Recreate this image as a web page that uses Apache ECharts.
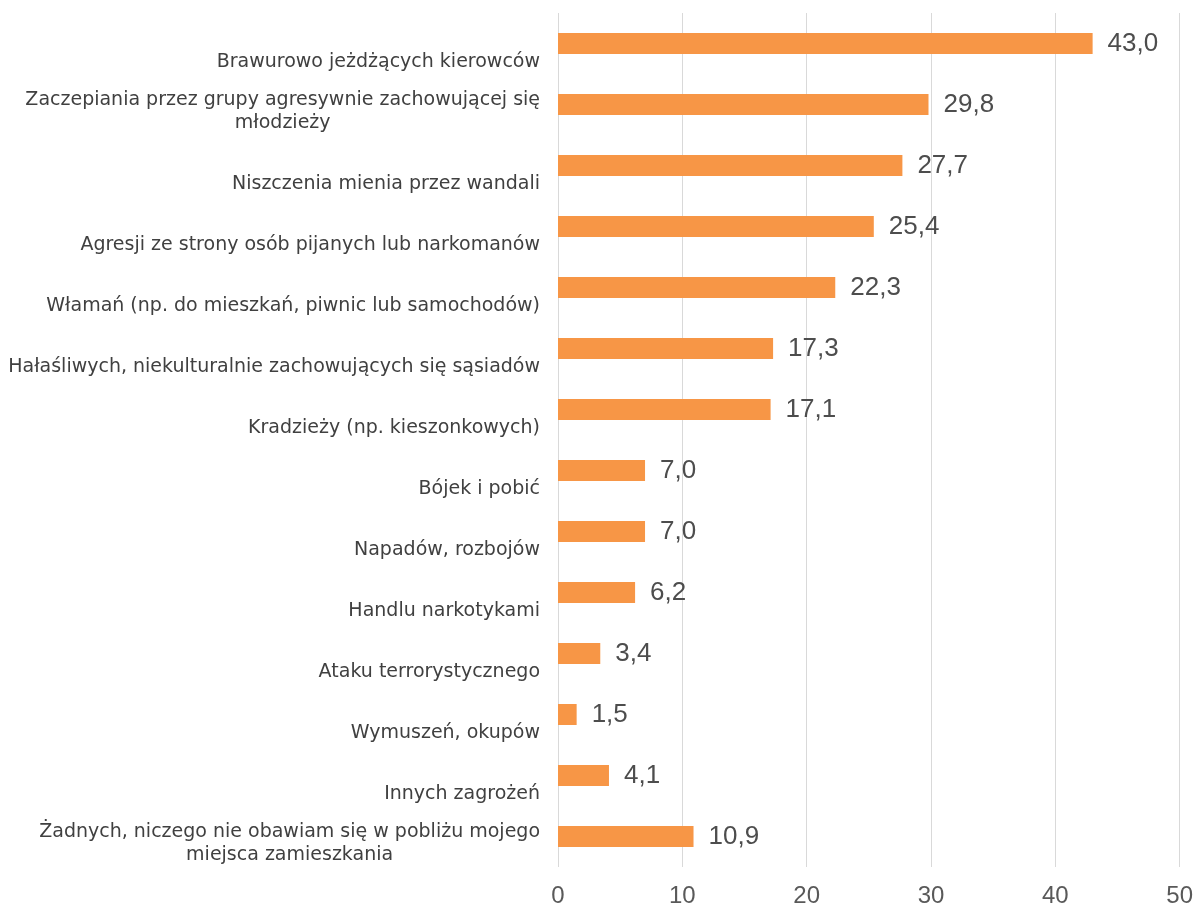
<!DOCTYPE html>
<html>
<head>
<meta charset="utf-8">
<title>Zagrożenia</title>
<script src="https://cdn.jsdelivr.net/npm/echarts@6/dist/echarts.min.js"></script>
<style>
    html, body { margin: 0; padding: 0; background: #fff; }
    #main { width: 1196px; height: 911px; }
</style>
</head>
<body>
<div id="main"></div>
<script>
// kategorie (od góry do dołu)
var categories = [
    'Brawurowo jeżdżących kierowców',
    'Zaczepiania przez grupy agresywnie zachowującej się\nmłodzieży',
    'Niszczenia mienia przez wandali',
    'Agresji ze strony osób pijanych lub narkomanów',
    'Włamań (np. do mieszkań, piwnic lub samochodów)',
    'Hałaśliwych, niekulturalnie zachowujących się sąsiadów',
    'Kradzieży (np. kieszonkowych)',
    'Bójek i pobić',
    'Napadów, rozbojów',
    'Handlu narkotykami',
    'Ataku terrorystycznego',
    'Wymuszeń, okupów',
    'Innych zagrożeń',
    'Żadnych, niczego nie obawiam się w pobliżu mojego\nmiejsca zamieszkania'
];
var values = [43.0, 29.8, 27.7, 25.4, 22.3, 17.3, 17.1, 7.0, 7.0, 6.2, 3.4, 1.5, 4.1, 10.9];
var xTicks = [0, 10, 20, 30, 40, 50];

var labelFont = 'DejaVu Sans, Liberation Sans, sans-serif';
var numFont = 'Liberation Sans, Arial, sans-serif';

var myChart = echarts.init(document.getElementById('main'));

var option = {
    backgroundColor: '#fff',
    animation: false,
    grid: {
        left: 558,
        right: 13,
        top: 13,
        bottom: 44,
        containLabel: false
    },
    xAxis: {
        type: 'value',
        min: xTicks[0],
        max: xTicks[xTicks.length - 1],
        interval: 10,
        axisLine: { show: false },
        axisTick: { show: false },
        splitLine: { lineStyle: { color: '#d9d9d9', width: 1 } },
        axisLabel: {
            color: '#595959',
            fontSize: 24,
            fontFamily: numFont,
            margin: 17
        }
    },
    yAxis: {
        type: 'category',
        inverse: true,
        data: categories,
        axisLine: { show: false },
        axisTick: { show: false },
        axisLabel: {
            interval: 0,
            margin: 18,
            align: 'right',
            verticalAlign: 'bottom',
            lineHeight: 23,
            padding: [0, 0, -30, 0],
            color: '#404040',
            fontSize: 19,
            fontFamily: labelFont,
            formatter: function (v) {
                // każda linia wyśrodkowana w bloku
                return v.split('\n').map(function (l) { return '{c|' + l + '}'; }).join('\n');
            },
            rich: {
                c: {
                    align: 'center',
                    color: '#404040',
                    fontSize: 19,
                    lineHeight: 23,
                    fontFamily: labelFont
                }
            }
        }
    },
    series: [
        {
            type: 'bar',
            data: values,
            barWidth: 21,
            itemStyle: { color: '#f79646' },
            label: {
                show: true,
                position: 'right',
                distance: 15,
                color: '#4d4d4d',
                fontSize: 26,
                fontFamily: numFont,
                formatter: function (p) {
                    return p.value.toFixed(1).replace('.', ',');
                }
            }
        }
    ]
};

myChart.setOption(option);
</script>
</body>
</html>
